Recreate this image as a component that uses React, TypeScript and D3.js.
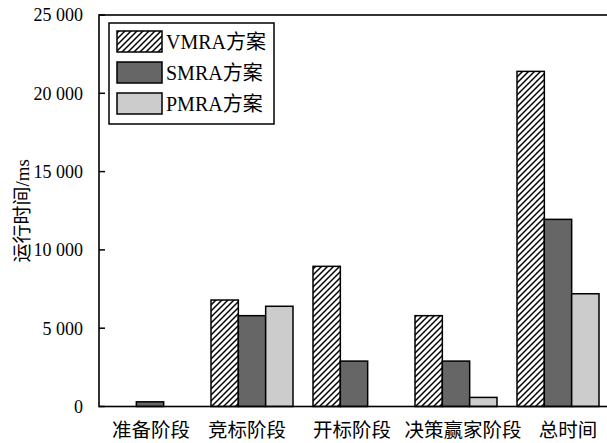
import React from 'react';
import * as d3 from 'd3';

const categories = ['准备阶段', '竞标阶段', '开标阶段', '决策赢家阶段', '总时间'];
const seriesNames = ['VMRA方案', 'SMRA方案', 'PMRA方案'];
const vmra = [0, 6800, 8950, 5800, 21400];
const smra = [300, 5800, 2900, 2900, 11950];
const pmra = [0, 6400, 0, 580, 7200];
const yTicks = [0, 5000, 10000, 15000, 20000, 25000];

const W = 607;
const H = 443;
const FONT = "'Liberation Serif', 'Times New Roman', 'Noto Sans CJK SC', serif";
const CJK = "'Noto Sans CJK SC', 'Liberation Serif', serif";
const labelNudge = [1, -5, -2, 7, 10];

export default function App() {
  const series = [vmra, smra, pmra];
  const fills = ['url(#hatch)', '#666666', '#cccccc'];
  const x = d3.scaleBand<string>().domain(categories).range([99, 609]).padding(0);
  const xi = d3.scaleBand<string>().domain(seriesNames).range([10, 92]).padding(0);
  const y = d3.scaleLinear().domain([0, 25000]).range([406.5, 15]);
  const fmt = (v: number) => d3.format(',')(v).replace(/,/g, ' ');

  return (
    <svg width={W} height={H} style={{ position: 'absolute', left: 0, top: 0, background: '#fff' }}>
      <defs>
        <pattern id="hatch" patternUnits="userSpaceOnUse" width={6} height={6}>
          <rect width={6} height={6} fill="#fff" />
          <path d="M-1,1 l2,-2 M0,6 l6,-6 M5,7 l2,-2" stroke="#000" strokeWidth={1.5} />
        </pattern>
      </defs>
      <rect x={0} y={0} width={W} height={H} fill="#fff" />
      {/* bars */}
      {categories.map((c, ci) => (
        <g key={c}>
          {seriesNames.map((s, si) => {
            const v = series[si][ci];
            if (!v) return null;
            return (
              <rect
                key={s}
                x={(x(c) as number) + (xi(s) as number)}
                y={y(v)}
                width={xi.bandwidth()}
                height={y(0) - y(v)}
                fill={fills[si]}
                stroke="#000"
                strokeWidth={1.5}
              />
            );
          })}
        </g>
      ))}
      {/* frame */}
      <rect x={99} y={y(25000)} width={510} height={y(0) - y(25000)} fill="none" stroke="#000" strokeWidth={1.6} />
      {yTicks.map((t) => (
        <g key={t}>
          <line x1={99} x2={105} y1={y(t)} y2={y(t)} stroke="#000" strokeWidth={1.5} />
          <text x={83} y={y(t)} dy="0.35em" textAnchor="end" fontFamily={FONT} fontSize={18} fill="#000">
            {fmt(t)}
          </text>
        </g>
      ))}
      {/* category labels */}
      {categories.map((c, ci) => (
        <text
          key={c}
          x={(x(c) as number) + x.bandwidth() / 2 + labelNudge[ci]}
          y={430}
          dy="0.35em"
          textAnchor="middle"
          fontFamily={CJK}
          fontSize={19.5}
          fill="#000"
        >
          {c}
        </text>
      ))}
      {/* y label */}
      <text
        transform={`translate(22, ${(y(0) + y(25000)) / 2}) rotate(-90)`}
        textAnchor="middle"
        dy="0.35em"
        fontFamily={FONT}
        fontSize={19}
        fill="#000"
      >
        运行时间/ms
      </text>
      {/* legend */}
      <rect x={109} y={23} width={165} height={101} fill="#fff" stroke="#000" strokeWidth={1.5} />
      {seriesNames.map((s, si) => (
        <g key={s}>
          <rect x={117} y={31 + si * 31} width={45} height={21} fill={fills[si]} stroke="#000" strokeWidth={1.5} />
          <text x={166} y={31 + si * 31 + 10.5} dy="0.35em" fontFamily={FONT} fontSize={20} fill="#000">
            {s}
          </text>
        </g>
      ))}
    </svg>
  );
}
